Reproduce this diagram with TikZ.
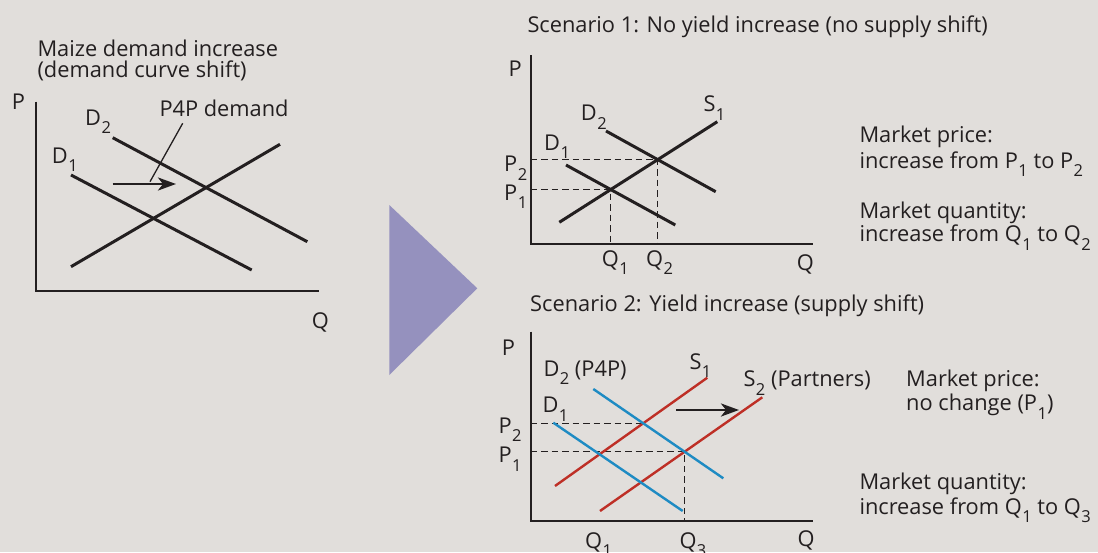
\documentclass[tikz,border=0pt]{standalone}
\usepackage{fontspec}
\setmainfont{Open Sans}
\usetikzlibrary{arrows.meta,intersections}
\definecolor{bgc}{HTML}{E1DEDB}
\definecolor{ink}{HTML}{231F20}
\definecolor{tric}{HTML}{9591BE}
\definecolor{redc}{HTML}{BE2F26}
\definecolor{bluec}{HTML}{1E8BC3}
\newcommand\lsub[1]{\kern0.5pt\raisebox{-8.5pt}{\fontsize{16.5}{16.5}\selectfont #1}}
\begin{document}
\begin{tikzpicture}[x=1pt,y=-1pt,
  lbl/.style={anchor=base west, inner sep=0pt, text=ink, font=\fontsize{21.8}{24}\selectfont},
  axisln/.style={draw=ink, line width=2.3pt},
  blk/.style={draw=ink, line width=3pt},
  redln/.style={draw=redc, line width=2.4pt},
  blueln/.style={draw=bluec, line width=2.4pt},
  dsh/.style={draw=ink, line width=1.5pt, dash pattern=on 6.5pt off 4pt},
  shiftarrow/.style={draw=ink, line width=2.8pt, -{Stealth[length=18pt,width=13pt,inset=5pt]}},
  pointer/.style={draw=ink, line width=1.3pt}]
\fill[bgc] (0,0) rectangle (1098,552);
\useasboundingbox (0,0) rectangle (1098,552);

% ---------------- left panel ----------------
\node[lbl] (t1) at (37.3,56) {Maize demand increase};
\node[lbl] (t2) at (37.3,77.7) {(demand curve shift)};
\coordinate (LPtop) at (35.7,101.7);
\coordinate (LQend) at (319,290.7);
\draw[axisln] (LPtop) |- (LQend);
\node[lbl] (lP) at (11.7,109.3) {P};
\node[lbl] (lQ) at (311.7,328.3) {Q};
\coordinate (lD2a) at (112.7,137.7); \coordinate (lD2b) at (307.3,241.7);
\coordinate (lD1a) at (71,175);      \coordinate (lD1b) at (251.7,270);
\coordinate (lSa) at (71,266.7);     \coordinate (lSb) at (280,144.3);
\draw[blk] (lD2a) -- (lD2b);
\draw[blk] (lD1a) -- (lD1b);
\draw[blk] (lSa) -- (lSb);
\coordinate (lArA) at (112.7,184); \coordinate (lArB) at (176,184);
\draw[shiftarrow] (lArA) -- (lArB);
\coordinate (lPtA) at (182.7,123.3); \coordinate (lPtB) at (150,181.7);
\draw[pointer] (lPtA) -- (lPtB);
\node[lbl] (lP4P) at (159.3,116.7) {P4P demand};
\node[lbl] (lD2) at (85,125) {D\lsub{2}};
\node[lbl] (lD1) at (51.7,163.3) {D\lsub{1}};

% ---------------- triangle ----------------
\fill[tric] (389.3,205) -- (389.3,375) -- (477.3,288.3) -- cycle;

% ---------------- scenario 1 ----------------
\node[lbl] (s1t) at (527.3,32.7) {Scenario 1: No yield increase (no supply shift)};
\coordinate (aTop) at (530.7,55);
\coordinate (aEnd) at (813.3,244.3);
\draw[axisln] (aTop) |- (aEnd);
\node[lbl] (aP) at (508.3,76.7) {P};
\node[lbl] (aQ) at (796.7,270) {Q};
\coordinate (aS1a) at (559.3,222.3); \coordinate (aS1b) at (717.3,121.7);
\coordinate (aD2a) at (606,131);     \coordinate (aD2b) at (715.7,191.7);
\coordinate (aD1a) at (566,165);     \coordinate (aD1b) at (675.3,225);
\path[name path=aS1] (aS1a) -- (aS1b);
\path[name path=aD2] (aD2a) -- (aD2b);
\path[name path=aD1] (aD1a) -- (aD1b);
\path[name intersections={of=aS1 and aD2, by=aE2}];
\path[name intersections={of=aS1 and aD1, by=aE1}];
\draw[dsh] (aTop |- aE2) -- (aE2) -- (aE2 |- aEnd);
\draw[dsh] (aTop |- aE1) -- (aE1) -- (aE1 |- aEnd);
\draw[blk] (aS1a) -- (aS1b);
\draw[blk] (aD2a) -- (aD2b);
\draw[blk] (aD1a) -- (aD1b);
\node[lbl] (aD2l) at (580.7,120.7) {D\lsub{2}};
\node[lbl] (aD1l) at (544,150) {D\lsub{1}};
\node[lbl] (aS1l) at (703.3,111.7) {S\lsub{1}};
\node[lbl] (aP2l) at (504,171.7) {P\lsub{2}};
\node[lbl] (aP1l) at (504,200) {P\lsub{1}};
\node[lbl] (aQ1l) at (601.7,266) {Q\lsub{1}};
\node[lbl] (aQ2l) at (646,266) {Q\lsub{2}};
\node[lbl] (m1) at (859.3,142.3) {Market price:};
\node[lbl] (m2) at (859.3,168.3) {increase from P\lsub{1} to P\lsub{2}};
\node[lbl] (m3) at (859.3,218.3) {Market quantity:};
\node[lbl] (m4) at (859.3,241.7) {increase from Q\lsub{1} to Q\lsub{2}};

% ---------------- scenario 2 ----------------
\node[lbl] (s2t) at (530,311.7) {Scenario 2: Yield increase (supply shift)};
\coordinate (bTop) at (530.7,331.7);
\coordinate (bEnd) at (813.3,521);
\draw[axisln] (bTop) |- (bEnd);
\node[lbl] (bP) at (501.7,355) {P};
\node[lbl] (bQ) at (797.3,546.7) {Q};
\coordinate (bS1a) at (555,486);     \coordinate (bS1b) at (707.3,377.7);
\coordinate (bS2a) at (600,511);     \coordinate (bS2b) at (762.3,397.3);
\coordinate (bD2a) at (593.3,389);   \coordinate (bD2b) at (723.3,478.3);
\coordinate (bD1a) at (553.3,422.7); \coordinate (bD1b) at (682.7,511);
\path[name path=bS1] (bS1a) -- (bS1b);
\path[name path=bS2] (bS2a) -- (bS2b);
\path[name path=bD2] (bD2a) -- (bD2b);
\path[name intersections={of=bS1 and bD2, by=bE2}];
\path[name intersections={of=bS2 and bD2, by=bE3}];
\draw[dsh] (bTop |- bE2) -- (bE2);
\draw[dsh] (bTop |- bE3) -- (bE3) -- (bE3 |- bEnd);
\draw[redln] (bS1a) -- (bS1b);
\draw[redln] (bS2a) -- (bS2b);
\draw[blueln] (bD2a) -- (bD2b);
\draw[blueln] (bD1a) -- (bD1b);
\coordinate (bArA) at (676,410); \coordinate (bArB) at (739,410);
\draw[shiftarrow] (bArA) -- (bArB);
\node[lbl] (bD2l) at (543.3,376) {D\lsub{2} (P4P)};
\node[lbl] (bD1l) at (542.3,412.7) {D\lsub{1}};
\node[lbl] (bS1l) at (689.3,369.3) {S\lsub{1}};
\node[lbl] (bS2l) at (743.3,386.7) {S\lsub{2} (Partners)};
\node[lbl] (bP2l) at (498.3,433.3) {P\lsub{2}};
\node[lbl] (bP1l) at (498.3,462.7) {P\lsub{1}};
\node[lbl] (bQ1l) at (585,548) {Q\lsub{1}};
\node[lbl] (bQ3l) at (679.3,548) {Q\lsub{3}};
\node[lbl] (n1) at (906,386) {Market price:};
\node[lbl] (n2) at (906,410.7) {no change (P\lsub{1})};
\node[lbl] (n3) at (859.3,489.3) {Market quantity:};
\node[lbl] (n4) at (859.3,514) {increase from Q\lsub{1} to Q\lsub{3}};
\end{tikzpicture}
\end{document}
